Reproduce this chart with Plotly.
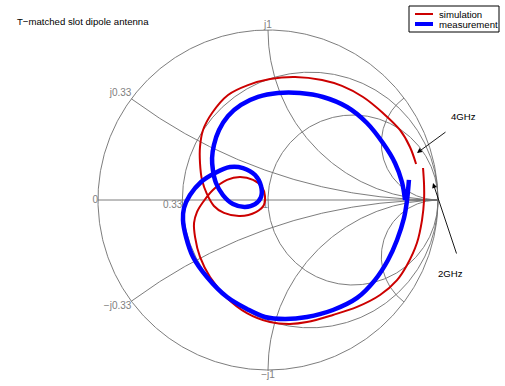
import numpy as np
import plotly.graph_objects as go

# Reflection coefficient (real / imaginary part), swept 2 GHz -> 4 GHz
sim_re = [0.912, 0.918, 0.918, 0.906, 0.876, 0.818, 0.759, 0.659, 0.524, 0.382,
          0.229, 0.129, 0.012, -0.124, -0.241, -0.341, -0.400, -0.429, -0.435, -0.418,
          -0.382, -0.324, -0.241, -0.165, -0.088, -0.035, -0.018, -0.024, -0.071, -0.165,
          -0.259, -0.318, -0.359, -0.388, -0.400, -0.400, -0.382, -0.329, -0.235, -0.118,
          0.012, 0.159, 0.318, 0.435, 0.559, 0.676, 0.776, 0.835, 0.871]
sim_im = [0.188, 0.088, 0.000, -0.118, -0.253, -0.382, -0.471, -0.559, -0.629, -0.676,
          -0.718, -0.729, -0.718, -0.665, -0.576, -0.453, -0.335, -0.218, -0.135, -0.071,
          -0.012, 0.059, 0.118, 0.135, 0.118, 0.076, 0.024, -0.029, -0.071, -0.094,
          -0.076, -0.035, 0.035, 0.118, 0.218, 0.312, 0.412, 0.512, 0.618, 0.676,
          0.712, 0.724, 0.706, 0.671, 0.606, 0.512, 0.412, 0.312, 0.212]

meas_re = [0.829, 0.824, 0.818, 0.800, 0.759, 0.706, 0.629, 0.524, 0.382, 0.229,
           0.100, -0.018, -0.124, -0.241, -0.359, -0.441, -0.482, -0.500, -0.494, -0.459,
           -0.394, -0.312, -0.224, -0.147, -0.076, -0.041, -0.041, -0.076, -0.135, -0.206,
           -0.265, -0.306, -0.324, -0.329, -0.318, -0.288, -0.235, -0.159, -0.059, 0.059,
           0.188, 0.324, 0.465, 0.582, 0.676, 0.747, 0.788, 0.806]
meas_im = [0.118, 0.059, 0.000, -0.106, -0.235, -0.353, -0.471, -0.576, -0.647, -0.688,
           -0.700, -0.688, -0.641, -0.571, -0.453, -0.335, -0.218, -0.118, -0.047, 0.029,
           0.106, 0.159, 0.194, 0.188, 0.147, 0.082, 0.018, -0.024, -0.041, -0.024,
           0.029, 0.100, 0.176, 0.247, 0.324, 0.412, 0.494, 0.559, 0.606, 0.629,
           0.629, 0.606, 0.547, 0.453, 0.335, 0.218, 0.106, 0.000]

# Smith chart grid
resistance_grid = [0.33, 1]
reactance_grid = [0.33, 1, 3]
resistance_labels = {0: "0", 0.33: "0.33", 1: "1"}
reactance_labels = {0.33: "j0.33", 1: "j1", -0.33: "\u2212j0.33", -1: "\u2212j1"}

GRID = "rgb(110,110,110)"
LABEL = "rgb(128,128,128)"
FONT = "Liberation Sans, Arial, Helvetica, sans-serif"


def z_to_gamma(z):
    return (z - 1) / (z + 1)


gx, gy = [], []

# outer circle (r = 0) and constant-resistance circles
theta = np.linspace(0, 2 * np.pi, 721)
for r in [0] + resistance_grid:
    c, rad = r / (1 + r), 1 / (1 + r)
    gx += list(c + rad * np.cos(theta)) + [None]
    gy += list(rad * np.sin(theta)) + [None]

# constant-reactance arcs
r_sweep = np.concatenate([[0], np.logspace(-3, 5, 800)])
for x in reactance_grid:
    for s in (1, -1):
        g = z_to_gamma(r_sweep + 1j * s * x)
        gx += list(g.real) + [1, None]
        gy += list(g.imag) + [0, None]

# real axis
gx += [-1, 1, None]
gy += [0, 0, None]

fig = go.Figure()
fig.add_trace(go.Scatter(x=gx, y=gy, mode="lines", hoverinfo="skip",
                         line=dict(color=GRID, width=0.9), showlegend=False))

# grid labels
lx, ly, lt, lp = [], [], [], []
for r, t in resistance_labels.items():
    g = z_to_gamma(r + 0j)
    lx.append(g.real); ly.append(g.imag); lt.append(t)
    lp.append("middle left" if r == 0 else "bottom left")
for x, t in reactance_labels.items():
    g = z_to_gamma(1j * x)
    lx.append(g.real); ly.append(g.imag); lt.append(t)
    if abs(x) == 1:
        lp.append("top center" if x > 0 else "bottom center")
    else:
        lp.append("top left" if x > 0 else "bottom left")
fig.add_trace(go.Scatter(x=lx, y=ly, mode="text", text=lt, textposition=lp,
                         textfont=dict(family=FONT, size=10, color=LABEL),
                         hoverinfo="skip", showlegend=False))

fig.add_trace(go.Scatter(x=sim_re, y=sim_im, mode="lines", name="simulation",
                         line=dict(color="rgb(204,0,0)", width=2, shape="spline", smoothing=1),
                         showlegend=False))
fig.add_trace(go.Scatter(x=meas_re, y=meas_im, mode="lines", name="measurement",
                         line=dict(color="rgb(0,0,255)", width=4.5, shape="spline", smoothing=1),
                         showlegend=False))

W, H = 505, 386
CX, CY, R = 268, 200, 170


def px(x):
    return x / W


def py(y):
    return 1 - y / H


shapes = [
    dict(type="rect", xref="paper", yref="paper", x0=px(409), x1=px(499), y0=py(32), y1=py(6),
         line=dict(color="black", width=1), fillcolor="white", layer="above"),
    dict(type="line", xref="paper", yref="paper", x0=px(415), x1=px(433), y0=py(14), y1=py(14),
         line=dict(color="rgb(204,0,0)", width=2)),
    dict(type="line", xref="paper", yref="paper", x0=px(415), x1=px(433), y0=py(24), y1=py(24),
         line=dict(color="rgb(0,0,255)", width=4)),
]

annotations = [
    dict(text="T\u2212matched slot dipole antenna", xref="paper", yref="paper",
         x=px(15), y=py(22), xanchor="left", yanchor="middle", showarrow=False,
         font=dict(family=FONT, size=9.6, color="black")),
    dict(text="simulation", xref="paper", yref="paper", x=px(437), y=py(14),
         xanchor="left", yanchor="middle", showarrow=False,
         font=dict(family=FONT, size=9.6, color="black")),
    dict(text="measurement", xref="paper", yref="paper", x=px(437), y=py(24),
         xanchor="left", yanchor="middle", showarrow=False,
         font=dict(family=FONT, size=9.6, color="black")),
    dict(text="4GHz", xref="paper", yref="paper", x=px(463), y=py(117),
         xanchor="center", yanchor="middle", showarrow=False,
         font=dict(family=FONT, size=9.6, color="black")),
    dict(text="2GHz", xref="paper", yref="paper", x=px(450), y=py(273),
         xanchor="center", yanchor="middle", showarrow=False,
         font=dict(family=FONT, size=9.6, color="black")),
    # arrows pointing at the sweep ends
    dict(text="", x=(417 - CX) / R, y=(CY - 153) / R, xref="x", yref="y",
         ax=30, ay=-22, showarrow=True, arrowhead=2, arrowsize=1.1, arrowwidth=0.9,
         arrowcolor="black"),
    dict(text="", x=(433 - CX) / R, y=(CY - 183) / R, xref="x", yref="y",
         ax=24, ay=72, showarrow=True, arrowhead=2, arrowsize=1.1, arrowwidth=0.9,
         arrowcolor="black"),
]

fig.update_layout(
    width=W, height=H, margin=dict(l=0, r=0, t=0, b=0),
    paper_bgcolor="white", plot_bgcolor="white",
    xaxis=dict(visible=False, range=[(0 - CX) / R, (W - CX) / R]),
    yaxis=dict(visible=False, range=[(CY - H) / R, CY / R]),
    shapes=shapes, annotations=annotations, showlegend=False,
)

fig.write_html("out.html")
